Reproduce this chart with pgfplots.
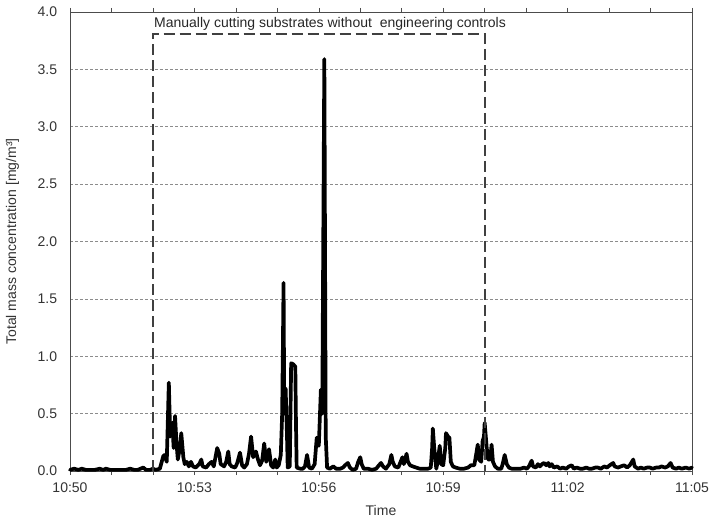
\documentclass[border=0pt]{standalone}
\usepackage{pgfplots}
\pgfplotsset{compat=1.18}
\usepackage{pgfplotstable}
\usepackage{fontspec}
\setmainfont{Liberation Sans}

% time in seconds after 10:50, mass concentration in mg/m3
\pgfplotstableread{
t c
0 0.01
6 0.02
12 0.01
17 0.02
23 0.01
29 0.01
36 0.01
43 0.02
48 0.01
52 0.02
58 0.01
65 0.01
72 0.01
81 0.01
87 0.02
93 0.01
98 0.01
106 0.03
110 0.01
116 0.01
120 0.02
124 0.01
130 0.02
135 0.13
137 0.14
140 0.08
143 0.77
145 0.30
148 0.42
150 0.20
152 0.48
154 0.25
156 0.10
159 0.20
161 0.33
164 0.12
166 0.06
169 0.08
172 0.04
175 0.08
178 0.04
182 0.03
187 0.06
190 0.10
192 0.04
197 0.03
201 0.06
205 0.08
208 0.04
213 0.20
216 0.15
218 0.06
223 0.04
226 0.08
229 0.17
231 0.06
234 0.04
239 0.03
242 0.07
246 0.16
249 0.05
252 0.03
256 0.06
259 0.15
262 0.30
265 0.12
269 0.17
272 0.10
275 0.05
278 0.09
281 0.24
284 0.08
286 0.12
288 0.19
291 0.05
294 0.03
297 0.10
299 0.03
302 0.05
305 0.14
307 0.50
309 1.64
310 0.50
312 0.72
314 0.30
315 0.03
318 0.04
320 0.94
323 0.93
326 0.91
327 0.40
328 0.03
333 0.02
337 0.02
340 0.04
343 0.14
346 0.03
350 0.02
354 0.06
357 0.29
360 0.22
363 0.71
365 0.50
368 3.59
370 0.30
372 0.03
376 0.02
381 0.04
385 0.02
391 0.02
395 0.03
398 0.05
402 0.07
405 0.03
409 0.01
414 0.02
417 0.08
420 0.12
422 0.06
425 0.02
431 0.02
437 0.01
443 0.02
447 0.05
450 0.07
453 0.04
457 0.02
462 0.06
465 0.14
467 0.08
470 0.04
475 0.03
477 0.06
481 0.12
483 0.06
487 0.15
489 0.08
492 0.05
496 0.04
501 0.03
506 0.02
512 0.02
518 0.02
522 0.03
524 0.20
525 0.37
527 0.20
530 0.02
532 0.08
535 0.22
537 0.06
540 0.05
543 0.20
544 0.33
547 0.30
549 0.29
551 0.08
554 0.04
558 0.03
564 0.02
570 0.02
576 0.03
580 0.05
585 0.05
587 0.12
590 0.23
592 0.10
595 0.08
597 0.26
599 0.30
600 0.42
603 0.20
605 0.10
608 0.10
610 0.23
612 0.08
615 0.04
619 0.02
624 0.02
626 0.06
629 0.14
632 0.06
635 0.03
639 0.02
644 0.02
648 0.02
652 0.02
657 0.03
661 0.02
664 0.04
668 0.09
670 0.04
674 0.03
677 0.06
680 0.04
683 0.06
686 0.07
689 0.05
692 0.07
694 0.04
697 0.06
700 0.03
705 0.04
709 0.02
713 0.03
718 0.02
722 0.04
726 0.05
729 0.02
733 0.03
738 0.02
742 0.02
747 0.03
751 0.02
755 0.02
760 0.03
764 0.03
768 0.02
773 0.04
777 0.03
781 0.05
786 0.07
788 0.04
793 0.03
797 0.04
802 0.05
806 0.03
810 0.05
815 0.10
817 0.04
822 0.02
826 0.03
830 0.02
835 0.03
839 0.03
843 0.02
848 0.03
852 0.03
856 0.04
861 0.03
865 0.04
869 0.07
872 0.03
877 0.02
881 0.03
885 0.02
891 0.03
896 0.02
900 0.03
}\conc

\begin{document}
\fontsize{14}{16}\selectfont
\begin{tikzpicture}
\begin{axis}[
    scale only axis,
    width=622pt, height=459pt,
    xmin=0, xmax=900, ymin=0, ymax=4,
    axis line style={black!70, line width=0.8pt},
    xtick={0,180,...,900},
    xticklabels={10:50,10:53,10:56,10:59,11:02,11:05},
    minor xtick={60,120,240,300,420,480,600,660,780,840},
    tick align=outside,
    major tick length=4pt, minor tick length=4pt,
    xtick style={black!70, line width=0.6pt},
    ytick={0,0.5,...,4},
    ytick style={draw=none},
    yticklabel style={
      /pgf/number format/fixed,
      /pgf/number format/fixed zerofill,
      /pgf/number format/precision=1,
      /pgf/number format/assume math mode=true},
    ymajorgrids,
    major grid style={black!45, dash pattern=on 3pt off 2pt, line width=0.5pt},
    tick label style={text=black!80, font=\fontsize{14}{16}\selectfont},
    xticklabel style={yshift=-3pt},
    yticklabel style={xshift=-4pt},
    xlabel={Time},
    ylabel={Total mass concentration [mg/m³]},
    label style={text=black!80, font=\fontsize{14}{16}\selectfont},
    xlabel style={yshift=-3pt},
    ylabel style={yshift=9pt},
    clip=false,
]
\addplot[black, line width=3.7pt, line join=round, line cap=round] table[x=t, y=c] {\conc};
\draw[black!75, line width=1.8pt, dash pattern=on 11pt off 5pt]
    (axis cs:120,0) -- (axis cs:120,3.81) -- (axis cs:600,3.81) -- (axis cs:600,0);
\node[anchor=south west, inner sep=1pt, text=black!85] at (axis cs:120,3.83)
    {Manually cutting substrates without\ \ engineering controls};
\end{axis}
\path (current axis.south west) +(-70pt,-49pt);
\path (current axis.north east) +(22pt,12pt);
\end{tikzpicture}
\end{document}
